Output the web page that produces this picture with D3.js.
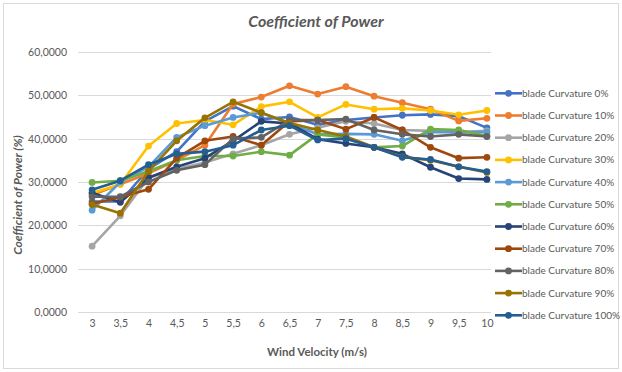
<!DOCTYPE html>
<html>
<head>
<meta charset="utf-8">
<script src="https://cdn.jsdelivr.net/npm/d3@7/dist/d3.min.js"></script>
<style>
  html, body { margin: 0; padding: 0; background: #fff; }
  svg { display: block; font-family: Lato, "Open Sans", sans-serif; }
</style>
</head>
<body>
<svg id="chart" width="622" height="372"></svg>
<script>
// Wind velocity categories (m/s)
const velocities = ["3","3,5","4","4,5","5","5,5","6","6,5","7","7,5","8","8,5","9","9,5","10"];

// Coefficient of power (%) for each blade curvature
const curv0   = [25.5, 25.5, 33.0, 37.0, 44.0, 47.5, 44.5, 45.0, 43.2, 44.3, 44.9, 45.4, 45.6, 45.2, 42.5];
const curv10  = [27.0, 29.5, 32.0, 35.0, 38.5, 48.0, 49.6, 52.2, 50.3, 52.0, 49.8, 48.3, 46.8, 44.1, 44.7];
const curv20  = [15.2, 22.2, 31.0, 33.0, 34.5, 36.5, 38.5, 41.0, 42.5, 44.0, 43.5, 42.0, 41.8, 41.5, 41.8];
const curv30  = [27.4, 29.5, 38.3, 43.5, 44.3, 43.2, 47.4, 48.5, 44.9, 47.9, 46.8, 47.0, 46.5, 45.5, 46.5];
const curv40  = [23.5, 30.0, 33.5, 40.3, 43.0, 44.9, 46.0, 43.5, 41.0, 41.1, 41.0, 39.5, 41.5, 41.5, 41.5];
const curv50  = [29.9, 30.3, 32.5, 35.0, 36.0, 36.0, 37.0, 36.2, 41.0, 40.3, 38.0, 38.3, 42.2, 42.0, 40.6];
const curv60  = [27.5, 25.3, 31.0, 33.5, 35.5, 39.5, 44.0, 43.5, 39.9, 38.9, 38.0, 36.5, 33.4, 30.8, 30.6];
const curv70  = [25.0, 26.5, 28.3, 35.5, 39.5, 40.5, 38.5, 44.0, 44.3, 42.2, 44.9, 42.0, 38.0, 35.5, 35.7];
const curv80  = [26.6, 26.6, 30.0, 32.7, 34.0, 40.0, 40.3, 44.3, 44.3, 44.5, 42.0, 41.0, 40.5, 41.0, 40.5];
const curv90  = [24.8, 22.8, 32.5, 39.5, 44.8, 48.5, 46.0, 43.6, 42.0, 40.5, 38.0, 35.8, 35.0, 33.5, 32.2];
const curv100 = [28.2, 30.3, 34.0, 36.5, 37.0, 38.5, 42.0, 43.0, 39.7, 40.0, 38.0, 35.7, 35.2, 33.5, 32.4];

const seriesNames = ["blade Curvature 0%","blade Curvature 10%","blade Curvature 20%","blade Curvature 30%",
  "blade Curvature 40%","blade Curvature 50%","blade Curvature 60%","blade Curvature 70%",
  "blade Curvature 80%","blade Curvature 90%","blade Curvature 100%"];
const seriesValues = [curv0, curv10, curv20, curv30, curv40, curv50, curv60, curv70, curv80, curv90, curv100];
const seriesColors = ["#4472C4","#ED7D31","#A5A5A5","#FFC000","#5B9BD5","#70AD47",
  "#264478","#9E480E","#636363","#997300","#255E91"];

const yTicks = [0, 10, 20, 30, 40, 50, 60];

const svg = d3.select("#chart");
const plot = { left: 78, right: 501, top: 52, bottom: 312 };

// Chart frame
svg.append("rect")
  .attr("x", 3.5).attr("y", 3.5).attr("width", 615).attr("height", 365)
  .attr("fill", "#fff").attr("stroke", "#D9D9D9").attr("stroke-width", 1);

const x = d3.scalePoint().domain(velocities).range([plot.left, plot.right]).padding(0.5);
const y = d3.scaleLinear().domain([0, 60]).range([plot.bottom, plot.top]);

const fmt = v => d3.format(".4f")(v).replace(".", ",");

// Horizontal gridlines
svg.append("g").selectAll("line").data(yTicks).join("line")
  .attr("x1", plot.left).attr("x2", 491)
  .attr("y1", d => Math.round(y(d)) + 0.5).attr("y2", d => Math.round(y(d)) + 0.5)
  .attr("stroke", "#D9D9D9").attr("stroke-width", 1);

// Y axis labels
const yAxis = d3.axisLeft(y).tickValues(yTicks).tickFormat(fmt).tickSize(0).tickPadding(0);
const gy = svg.append("g").attr("transform", `translate(${plot.left - 11},0)`).call(yAxis);
gy.select(".domain").remove();
gy.selectAll("text").attr("fill", "#595959").style("font-size", "10.5px").style("font-family", "Lato, sans-serif");

// X axis labels
const xAxis = d3.axisBottom(x).tickSize(0).tickPadding(0);
const gx = svg.append("g").attr("transform", `translate(0,${plot.bottom + 8})`).call(xAxis);
gx.select(".domain").remove();
gx.selectAll("text").attr("fill", "#595959").style("font-size", "10.5px").style("font-family", "Lato, sans-serif");

// Series lines and markers
const line = d3.line().x((d, i) => x(velocities[i])).y(d => y(d));
seriesValues.forEach((vals, s) => {
  const g = svg.append("g");
  g.append("path").datum(vals)
    .attr("d", line).attr("fill", "none")
    .attr("stroke", seriesColors[s]).attr("stroke-width", 2.6)
    .attr("stroke-linejoin", "round").attr("stroke-linecap", "round");
  g.selectAll("circle").data(vals).join("circle")
    .attr("cx", (d, i) => x(velocities[i])).attr("cy", d => y(d))
    .attr("r", 3.4).attr("fill", seriesColors[s]);
});

// Titles
svg.append("text").attr("x", 316).attr("y", 27).attr("text-anchor", "middle")
  .attr("fill", "#595959").style("font-size", "16px").style("font-weight", "bold").style("font-style", "italic")
  .text("Coefficient of Power");

svg.append("text").attr("transform", "translate(22,195) rotate(-90)").attr("text-anchor", "middle")
  .attr("fill", "#595959").style("font-size", "12px").style("font-weight", "bold").style("font-style", "italic")
  .text("Coefficient of Power (%)");

svg.append("text").attr("x", 317).attr("y", 356).attr("text-anchor", "middle")
  .attr("fill", "#595959").style("font-size", "11.5px").style("font-weight", "bold")
  .text("Wind Velocity (m/s)");

// Legend
const legend = svg.append("g").selectAll("g").data(seriesNames).join("g")
  .attr("transform", (d, i) => `translate(495,${93.3 + i * 22.2})`);
legend.append("line").attr("x1", 0).attr("x2", 27).attr("y1", 0).attr("y2", 0)
  .attr("stroke", (d, i) => seriesColors[i]).attr("stroke-width", 2.6);
legend.append("circle").attr("cx", 13.5).attr("cy", 0).attr("r", 3.4)
  .attr("fill", (d, i) => seriesColors[i]);
legend.append("text").attr("x", 27).attr("y", 0).attr("dy", "0.35em")
  .attr("fill", "#595959").style("font-size", "10px")
  .text(d => d);
</script>
</body>
</html>
